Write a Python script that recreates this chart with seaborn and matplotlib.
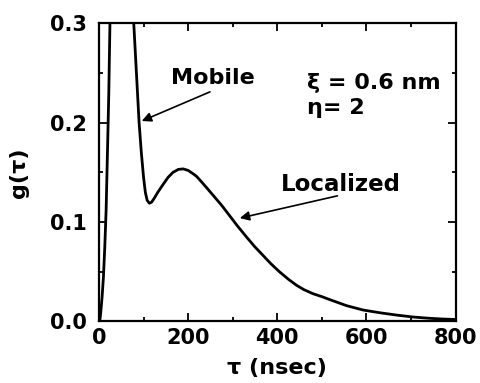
import matplotlib
matplotlib.use("Agg")
import matplotlib.pyplot as plt
import seaborn as sns
import pandas as pd
from matplotlib.ticker import MultipleLocator

# values (tau in nsec, g(tau))
tau = [1.5, 3, 4.5, 7, 10, 13, 16, 19.5, 22, 24.6, 50, 78, 84, 90, 95,
       100, 104, 108, 113, 118, 124, 132, 144, 155, 166, 178, 189, 200,
       210, 219, 235, 256, 275, 293, 310, 331, 350, 368, 386, 405, 425,
       443, 460, 480, 500, 518, 555, 592, 630, 667, 705, 742, 770, 800]
g = [0.0, 0.005, 0.012, 0.025, 0.045, 0.075, 0.112, 0.18, 0.23, 0.3, 0.6,
     0.3, 0.25, 0.2, 0.17, 0.145, 0.13, 0.122, 0.119, 0.12, 0.124, 0.13,
     0.138, 0.145, 0.150, 0.153, 0.1535, 0.152, 0.149, 0.146, 0.138,
     0.127, 0.117, 0.1065, 0.0965, 0.085, 0.075, 0.0665, 0.058, 0.050,
     0.0425, 0.0365, 0.032, 0.028, 0.025, 0.022, 0.016, 0.0116, 0.0088,
     0.0065, 0.0045, 0.0032, 0.0025, 0.002]

xticks = [0, 200, 400, 600, 800]
yticks = [0.0, 0.1, 0.2, 0.3]

df = pd.DataFrame({"tau": tau, "g": g})

sns.set_style("ticks")
plt.rcParams["font.family"] = ["DejaVu Sans"]
plt.rcParams["font.weight"] = "bold"
for key in ["text.color", "axes.labelcolor", "xtick.color", "ytick.color",
            "axes.edgecolor"]:
    plt.rcParams[key] = "black"

fig = plt.figure(figsize=(4.81, 3.83), dpi=100)
ax = fig.add_axes([0.2058, 0.1606, 0.7412, 0.7786])

sns.lineplot(data=df, x="tau", y="g", color="black", lw=2, sort=False, ax=ax)

ax.set_xlim(0, 800)
ax.set_ylim(0, 0.3)
ax.set_xticks(xticks)
ax.set_yticks(yticks)
ax.set_xticklabels([str(v) for v in xticks])
ax.set_yticklabels([f"{v:.1f}" for v in yticks])
ax.xaxis.set_minor_locator(MultipleLocator(100))
ax.yaxis.set_minor_locator(MultipleLocator(0.05))

ax.tick_params(which="both", direction="in", top=True, right=True,
               width=1.3, labelsize=15)
ax.tick_params(which="major", length=6)
ax.tick_params(which="minor", length=3)
ax.tick_params(axis="y", pad=9)
ax.tick_params(axis="x", pad=5)
for lab in ax.get_xticklabels() + ax.get_yticklabels():
    lab.set_fontweight("bold")
for sp in ax.spines.values():
    sp.set_linewidth(1.6)
    sp.set_visible(True)

ax.set_xlabel("τ (nsec)", fontsize=16, fontweight="bold")
ax.set_ylabel("g(τ)", fontsize=16, fontweight="bold")
ax.xaxis.set_label_coords(0.499, -0.122)
ax.yaxis.set_label_coords(-0.196, 0.5)

arrow = dict(arrowstyle="-|>", color="black", lw=1.2, mutation_scale=14,
             shrinkA=0, shrinkB=0)
ax.text(255, 0.245, "Mobile", fontsize=16, fontweight="bold",
        ha="center", va="center")
ax.annotate("", xy=(96, 0.2017), xytext=(249, 0.231), arrowprops=arrow)
ax.text(542, 0.138, "Localized", fontsize=16.5, fontweight="bold",
        ha="center", va="center")
ax.annotate("", xy=(316, 0.104), xytext=(535, 0.1264), arrowprops=arrow)

ax.text(466, 0.240, "ξ = 0.6 nm", fontsize=16, fontweight="bold",
        ha="left", va="center")
ax.text(466, 0.215, "η= 2", fontsize=16, fontweight="bold",
        ha="left", va="center")

fig.savefig("out.png", dpi=100)
